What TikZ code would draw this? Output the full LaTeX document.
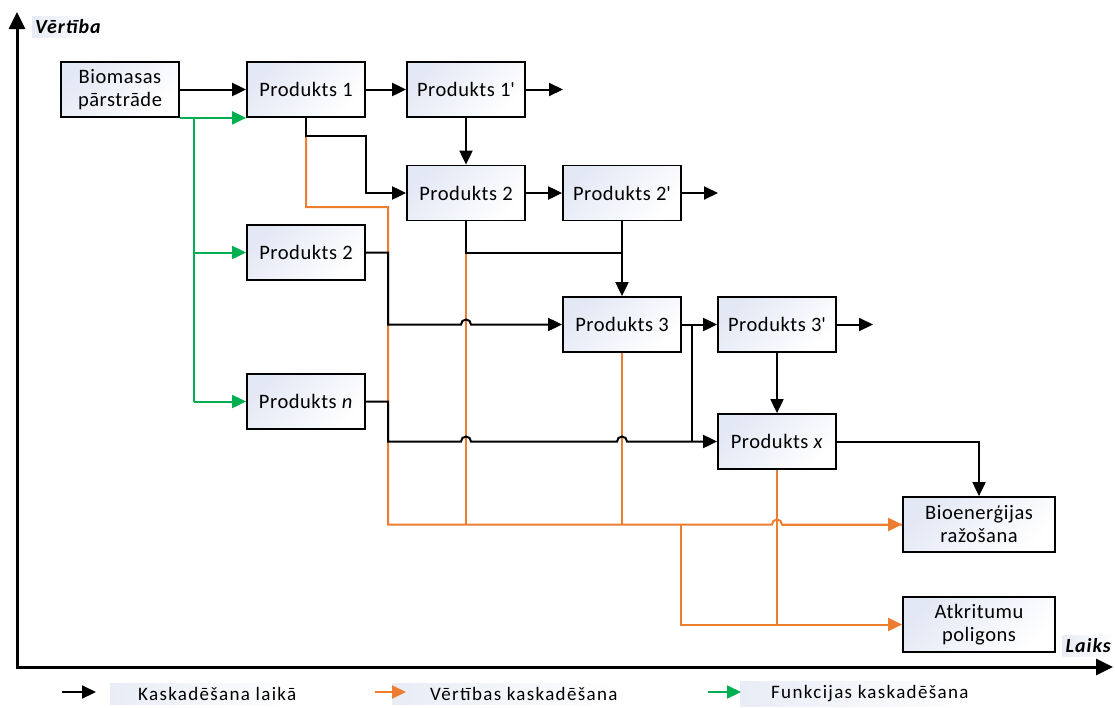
\documentclass[tikz,border=0pt]{standalone}
\usepackage{fontspec}
\setmainfont{Carlito}
\newfontfamily\boxfont[LetterSpace=2.7]{Carlito}
\newfontfamily\legfont[LetterSpace=7]{Carlito}
\newfontfamily\axfont[LetterSpace=5]{Carlito}
\usetikzlibrary{arrows.meta}
\definecolor{orng}{HTML}{ED7D31}
\definecolor{grn}{HTML}{00B050}
\definecolor{boxblue}{HTML}{E3E8F5}
\definecolor{legbg}{HTML}{E8ECF5}
\tikzset{
  box/.style={draw=black, line width=1.8pt, minimum width=118pt, minimum height=55pt,
    inner sep=2pt, align=center, font=\boxfont\fontsize{20.5}{23}\selectfont,
    top color=boxblue, bottom color=white, shading angle=45},
  tip/.style={-{Triangle[length=14pt,width=13pt]}},
  blk/.style={draw=black, line width=2pt},
  org/.style={draw=orng, line width=2pt},
  gr/.style={draw=grn, line width=2pt},
  axis/.style={draw=black, line width=3pt, -{Triangle[length=17pt,width=16pt]}},
  axlabel/.style={font=\axfont\fontsize{20}{24}\selectfont\bfseries\itshape, inner sep=3pt,
    left color=legbg, right color=white},
  legtext/.style={font=\legfont\fontsize{19}{22}\selectfont, inner ysep=4pt, inner xsep=2pt,
    left color=legbg, right color=white, anchor=west},
}
\begin{document}
\begin{tikzpicture}[x=1pt,y=-1pt]
\useasboundingbox (0,0) rectangle (1115,707);
% axes
\coordinate (O) at (17,667);
\coordinate (Ytop) at (17,12);
\coordinate (Xend) at (1113,667);
\draw[axis] (O) -- (Ytop);
\draw[axis] ([xshift=-1.5pt]O) -- (Xend);
\node[axlabel, anchor=west] (vlab) at (32,27) {Vērtība\hspace*{2pt}};
\node[axlabel, anchor=east] (llab) at (1114,646) {Laiks};
% boxes
\node[box] (bio) at (120,89.5) {Biomasas\\pārstrāde};
\node[box] (p1) at (306,89.5) {Produkts 1};
\node[box] (p1p) at (466,89.5) {Produkts 1\textquotesingle};
\node[box] (p2) at (466,193) {Produkts 2};
\node[box] (p2p) at (622,193) {Produkts 2\textquotesingle};
\node[box] (p2l) at (306,252.5) {Produkts 2};
\node[box] (p3) at (622,324.5) {Produkts 3};
\node[box] (p3p) at (777,324.5) {Produkts 3\textquotesingle};
\node[box] (pn) at (306,401.5) {Produkts \textit{n}};
\node[box] (px) at (777,441.5) {Produkts \textit{x}};
\node[box, minimum width=152pt] (bioe) at (979,524.5) {Bioenerģijas\\ražošana};
\node[box, minimum width=152pt] (atk) at (979,624.5) {Atkritumu\\poligons};
% helper coordinates
\coordinate (e1) at (563,89.5);
\coordinate (e2) at (718,193);
\coordinate (e3) at (873,324.5);
\coordinate (j1) at (306,136);
\coordinate (j1b) at (366,136);
\coordinate (j2) at (466,252.5);
\coordinate (j3) at (388,252.5);
\coordinate (j4) at (388,401.5);
\coordinate (j5) at (692,324.5);
\coordinate (j6) at (692,441.5);
\coordinate (j7) at (979,441.5);
\coordinate (o1) at (306,207);
\coordinate (o2) at (388,207);
\coordinate (o3) at (388,524.5);
\coordinate (o4) at (466,524.5);
\coordinate (o5) at (622,524.5);
\coordinate (o6) at (681,524.5);
\coordinate (o7) at (681,624.5);
\coordinate (o8) at (777,624.5);
\coordinate (g1) at (194,117);
\coordinate (g2) at (194,401.5);
% orange connectors (below black)
\draw[org] (j1) -- (o1) -- (o2) -- (o3) -- (772,524.5) arc[start angle=180,end angle=0,radius=5pt] -- (bioe.west);
\draw[org, tip] (782,524.5) -- (bioe.west);
\draw[org] (j2) -- (o4);
\draw[org] (p3.south) -- (o5);
\draw[org] (px.south) -- (o8);
\draw[org, tip] (o6) -- (o7) -- (atk.west);
% green connectors
\draw[gr, tip] (bio.south east) -- (p1.south west);
\draw[gr] (g1) -- (g2);
\draw[gr, tip] (194,252.5) -- (p2l.west);
\draw[gr, tip] (g2) -- (pn.west);
% black connectors
\draw[blk, tip] (bio.east) -- (p1.west);
\draw[blk, tip] (p1.east) -- (p1p.west);
\draw[blk, tip] (p1p.east) -- (e1);
\draw[blk, tip] (p1p.south) -- (p2.north);
\draw[blk, tip] (p1.south) -- (j1) -- (j1b) |- (p2.west);
\draw[blk, tip] (p2.east) -- (p2p.west);
\draw[blk, tip] (p2p.east) -- (e2);
\draw[blk] (p2.south) -- (j2) -- (622,252.5);
\draw[blk, tip] (p2p.south) -- (p3.north);
\draw[blk, tip] (p2l.east) -- (j3) -- (388,324.5) -- (461,324.5) arc[start angle=180,end angle=0,radius=5pt] -- (p3.west);
\draw[blk, tip] (p3.east) -- (p3p.west);
\draw[blk] (j5) -- (j6);
\draw[blk, tip] (p3p.east) -- (e3);
\draw[blk, tip] (p3p.south) -- (px.north);
\draw[blk, tip] (pn.east) -- (j4) -- (388,441.5) -- (461,441.5) arc[start angle=180,end angle=0,radius=5pt] -- (617,441.5) arc[start angle=180,end angle=0,radius=5pt] -- (px.west);
\draw[blk, tip] (px.east) -- (j7) -- (bioe.north);
% legend
\node[legtext] (lt1) at (110,694) {\hspace*{26pt}Kaskadēšana laikā};
\node[legtext] (lt2) at (392,694) {\hspace*{36pt}Vērtības kaskadēšana};
\node[legtext] (lt3) at (740,694) {\hspace*{29pt}Funkcijas kaskadēšana};
\coordinate (la1) at (62,692); \coordinate (la2) at (96,692);
\coordinate (lb1) at (375,692); \coordinate (lb2) at (406,692);
\coordinate (lc1) at (708,692); \coordinate (lc2) at (741,692);
\draw[blk, tip] (la1) -- (la2);
\draw[org, tip] (lb1) -- (lb2);
\draw[gr, tip] (lc1) -- (lc2);
\end{tikzpicture}
\end{document}
